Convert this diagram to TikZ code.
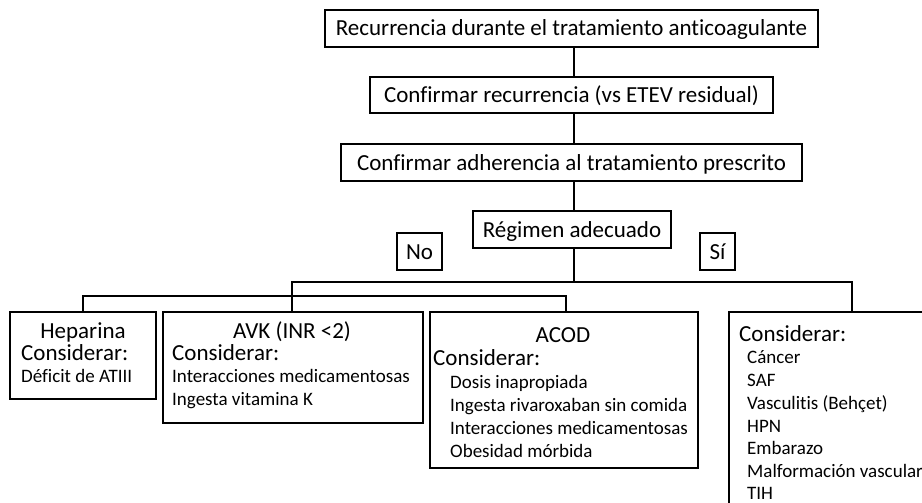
\documentclass[tikz,border=0pt]{standalone}
\usepackage{fontspec}
\setmainfont{Carlito}[Ligatures=NoCommon]
\begin{document}
\begin{tikzpicture}[x=1pt,y=-1pt,
  box/.style={draw, line width=1.1pt, inner sep=0pt},
  big/.style={font=\fontsize{23}{27}\selectfont, inner sep=0pt, text height=15pt, text depth=0pt},
  small/.style={font=\fontsize{19}{23}\selectfont, inner sep=0pt, text height=12pt, text depth=0pt},
  wire/.style={line width=1.1pt}]
\useasboundingbox (0,0) rectangle (922,503);
\clip (0,0) rectangle (922,503);
\fill[white] (0,0) rectangle (922,503);
% top chain
\node[box, big, minimum width=493pt, minimum height=37pt] (t1) at (571.5,28.5) {Recurrencia durante el tratamiento anticoagulante};
\node[box, big, minimum width=403pt, minimum height=36pt] (t2) at (571.5,95) {Confirmar recurrencia (vs ETEV residual)};
\node[box, big, minimum width=461pt, minimum height=37pt] (t3) at (571.5,162.5) {Confirmar adherencia al tratamiento prescrito};
\node[box, big, minimum width=198pt, minimum height=37pt] (t4) at (572,229.5) {Régimen adecuado};
\node[box, big, minimum width=45pt, minimum height=37pt] (no) at (419.5,251.5) {No};
\node[box, big, minimum width=35pt, minimum height=37pt] (si) at (717.5,251.5) {Sí};
% bottom boxes
\node[box, minimum width=146pt, minimum height=87pt] (hep) at (83,355.5) {};
\node[box, minimum width=260pt, minimum height=111pt] (avk) at (293,367.5) {};
\node[box, minimum width=268pt, minimum height=156pt] (acod) at (564,390) {};
\node[box, minimum width=240pt, minimum height=240pt] (cons) at (849,432) {};
% connectors
\coordinate (spine) at (574,282);
\coordinate (upL) at (292,282);
\coordinate (upR) at (852,282);
\coordinate (loL) at (83,296);
\coordinate (loR) at (566,296);
\draw[wire] (t1.south -| spine) -- (t2.north -| spine);
\draw[wire] (t2.south -| spine) -- (t3.north -| spine);
\draw[wire] (t3.south -| spine) -- (t4.north -| spine);
\draw[wire] (t4.south -| spine) -- (spine);
\draw[wire] (avk.north -| upL) -- (upL) -- (upR) -- (upR |- cons.north);
\draw[wire] (hep.north -| loL) -- (loL) -- (loR) -- (loR |- acod.north);
% Heparina
\node[big] (hep1) at (83,330.5) {Heparina};
\node[big, anchor=west] (hep2) at (21,353) {Considerar:};
\node[small, anchor=west] (hep3) at (21,376) {Déficit de ATIII};
% AVK
\node[big] (avk1) at (292,330.5) {AVK (INR <2)};
\node[big, anchor=west] (avk2) at (172,353) {Considerar:};
\node[small, anchor=west] (avk3) at (172,376) {Interacciones medicamentosas};
\node[small, anchor=west] (avk4) at (172,399) {Ingesta vitamina K};
% ACOD
\node[big] (acod1) at (563,335) {ACOD};
\node[big, anchor=west] (acod2) at (433,358) {Considerar:};
\node[small, anchor=west] (acod3) at (450,382) {Dosis inapropiada};
\node[small, anchor=west] (acod4) at (450,405) {Ingesta rivaroxaban sin comida};
\node[small, anchor=west] (acod5) at (450,428) {Interacciones medicamentosas};
\node[small, anchor=west] (acod6) at (450,451) {Obesidad mórbida};
% Considerar (Si)
\node[big, anchor=west] (c0) at (739,334) {Considerar:};
\node[small, anchor=west] (c1) at (747,357) {Cáncer};
\node[small, anchor=west] (c2) at (747,380) {SAF};
\node[small, anchor=west] (c3) at (747,403) {Vasculitis (Behçet)};
\node[small, anchor=west] (c4) at (747,426) {HPN};
\node[small, anchor=west] (c5) at (747,448.5) {Embarazo};
\node[small, anchor=west] (c6) at (747,471) {Malformación vascular};
\node[small, anchor=west] (c7) at (747,493) {TIH};
\end{tikzpicture}
\end{document}
